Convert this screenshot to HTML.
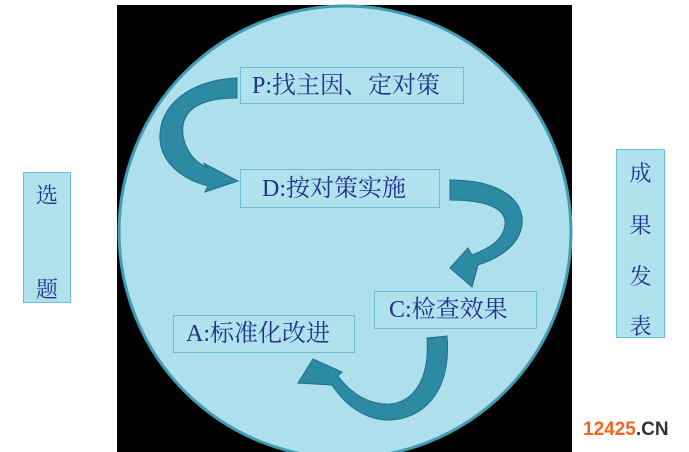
<!DOCTYPE html>
<html><head><meta charset="utf-8"><style>
body{margin:0;width:689px;height:452px;overflow:hidden;background:#fff;position:relative;font-family:"Liberation Serif","Noto Serif CJK SC",serif;}
.box{position:absolute;background:#b0e2ee;border:1px solid #6cc0d4;color:#22308e;box-sizing:border-box;}
.h{font-size:24px;line-height:1;display:flex;align-items:center;padding-left:12px;white-space:nowrap;}
.v{font-size:22px;text-align:center;}
.v span{position:absolute;left:0;width:100%;}
</style></head><body>
<div style="position:absolute;left:117px;top:5px;width:455px;height:447px;background:#000"></div>
<svg width="689" height="452" style="position:absolute;left:0;top:0">
<circle cx="345" cy="232" r="226" fill="#addfec" stroke="#3f9cb2" stroke-width="3"/>
<g fill="#2c8aa2" stroke="#1f6f85" stroke-width="1">
<path d="M237,78 L237,98 C200,98 180,110 183,135 C186,155 200,165 208,168 L203,163 L238,181 L205,192 L208,186 C185,180 162,165 160,140 C158,105 190,80 237,78 Z"/>
<path d="M450,180 C500,180 525,200 522,225 C519,245 500,258 478,265 L472,287 L450,268 L468,248 L472,255 C490,248 503,240 505,225 C507,210 490,200 450,200 Z"/>
<path d="M427,338 L447,336 C452,395 420,420 388,420 C365,420 345,405 332,385 L298,383 L313,359 L342,372 L338,376 C352,395 370,405 390,404 C413,402 430,380 427,338 Z"/>
</g>
</svg>
<div class="box h" style="left:240px;top:67px;width:224px;height:37px;padding-left:11px">P:找主因、定对策</div>
<div class="box h" style="left:240px;top:169px;width:200px;height:39px;padding-left:21px">D:按对策实施</div>
<div class="box h" style="left:374px;top:291px;width:163px;height:38px;padding-left:14px">C:检查效果</div>
<div class="box h" style="left:173px;top:315px;width:182px;height:38px;padding-left:12px">A:标准化改进</div>
<div class="box v" style="left:23px;top:172px;width:48px;height:131px"><span style="top:6px">选</span><span style="top:100px">题</span></div>
<div class="box v" style="left:616px;top:149px;width:49px;height:189px"><span style="top:7px">成</span><span style="top:59px">果</span><span style="top:110px">发</span><span style="top:160px">表</span></div>
<div style="position:absolute;left:583px;top:419px;font:bold 19px 'Liberation Sans',sans-serif;color:#f26522">12425<span style="color:#333">.CN</span></div>
</body></html>
